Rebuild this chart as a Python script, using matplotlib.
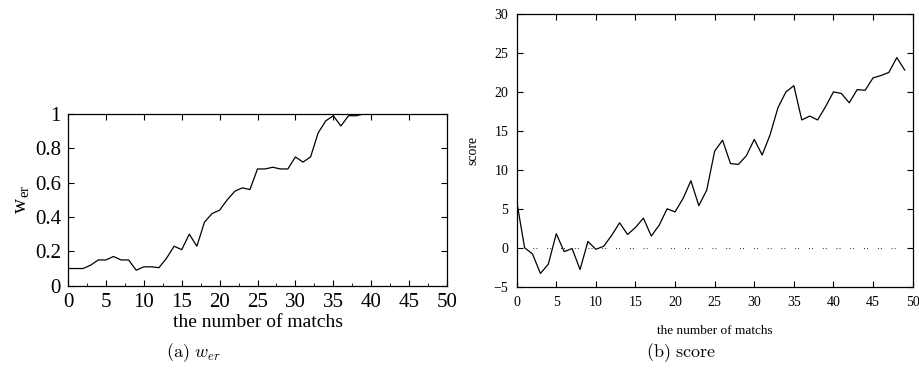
import matplotlib
matplotlib.use("Agg")
import matplotlib.pyplot as plt
from matplotlib.ticker import MultipleLocator

plt.rcParams['font.family'] = ['Liberation Serif', 'DejaVu Serif']
plt.rcParams['mathtext.fontset'] = 'cm'

# Data
matches_a = list(range(0, 51))
w_er = [0.10, 0.10, 0.10, 0.12, 0.15, 0.15, 0.17, 0.15, 0.15, 0.09,
        0.11, 0.11, 0.105, 0.16, 0.23, 0.21, 0.30, 0.23, 0.37, 0.42,
        0.44, 0.50, 0.55, 0.57, 0.56, 0.68, 0.68, 0.69, 0.68, 0.68,
        0.75, 0.72, 0.75, 0.89, 0.96, 0.99, 0.93, 0.99, 0.99, 1.0,
        1.0, 1.0, 1.0, 1.0, 1.0, 1.0, 1.0, 1.0, 1.0, 1.0, 1.0]

matches_b = list(range(0, 50))
score = [6.0, 0.0, -0.8, -3.3, -2.1, 1.8, -0.5, -0.1, -2.8, 0.8,
         -0.2, 0.2, 1.6, 3.2, 1.7, 2.6, 3.8, 1.5, 2.9, 5.0,
         4.6, 6.3, 8.6, 5.4, 7.4, 12.4, 13.8, 10.8, 10.7, 11.8,
         13.9, 11.9, 14.5, 18.0, 20.0, 20.8, 16.4, 16.9, 16.4, 18.1,
         20.0, 19.8, 18.6, 20.3, 20.2, 21.8, 22.1, 22.5, 24.4, 22.8]

zero_ref = 0.0
zero_span = (2, 49)

xticks = [0, 5, 10, 15, 20, 25, 30, 35, 40, 45, 50]
yticks_a = [0, 0.2, 0.4, 0.6, 0.8, 1]
yticklabels_a = ['0', '0.2', '0.4', '0.6', '0.8', '1']
yticks_b = [-5, 0, 5, 10, 15, 20, 25, 30]
yticklabels_b = ['\u22125', '0', '5', '10', '15', '20', '25', '30']

fig = plt.figure(figsize=(9.2, 3.72), dpi=100)

# Left panel
ax1 = fig.add_axes([0.0739, 0.232, 0.412, 0.4615])
ax1.plot(matches_a, w_er, color='black', lw=0.9)
ax1.set_xlim(0, 50)
ax1.set_ylim(0, 1)
ax1.set_xticks(xticks)
ax1.set_xticklabels([str(t) for t in xticks])
ax1.set_yticks(yticks_a)
ax1.set_yticklabels(yticklabels_a)
ax1.xaxis.set_minor_locator(MultipleLocator(2.5))
ax1.tick_params(axis='both', which='major', direction='in', length=4, width=0.8,
                top=True, right=True, labelsize=15, pad=5)
ax1.tick_params(axis='x', which='minor', direction='in', length=2, width=0.6,
                top=False, bottom=True)
ax1.set_xlabel('the number of matchs', fontsize=14, labelpad=2)
ax1.set_ylabel('w$_{\\mathregular{er}}$', fontsize=15, labelpad=2)
for s in ax1.spines.values():
    s.set_linewidth(0.9)

# Right panel
ax2 = fig.add_axes([0.5616, 0.2293, 0.4304, 0.7331])
ax2.plot(matches_b, score, color='black', lw=0.9)
ax2.hlines(zero_ref, zero_span[0], zero_span[1], colors='black', lw=0.8,
           linestyles=(0, (0.7, 2.0, 0.7, 9.0)))
ax2.set_xlim(0, 50)
ax2.set_ylim(-5, 30)
ax2.set_xticks(xticks)
ax2.set_xticklabels([str(t) for t in xticks])
ax2.set_yticks(yticks_b)
ax2.set_yticklabels(yticklabels_b)
ax2.tick_params(axis='both', which='major', direction='in', length=4, width=0.8,
                top=True, right=True, labelsize=10, pad=7)
ax2.tick_params(axis='y', which='major', pad=6)
ax2.set_xlabel('the number of matchs', fontsize=9.5, labelpad=11)
ax2.set_ylabel('score', fontsize=10, labelpad=10)
for s in ax2.spines.values():
    s.set_linewidth(0.9)

# Captions
fig.text(0.21, 0.052, r'$\mathrm{(a)}\ w_{er}$', fontsize=13, ha='center', va='center')
fig.text(0.74, 0.052, r'$\mathrm{(b)\ score}$', fontsize=13, ha='center', va='center')

fig.savefig('out.png', dpi=100)
